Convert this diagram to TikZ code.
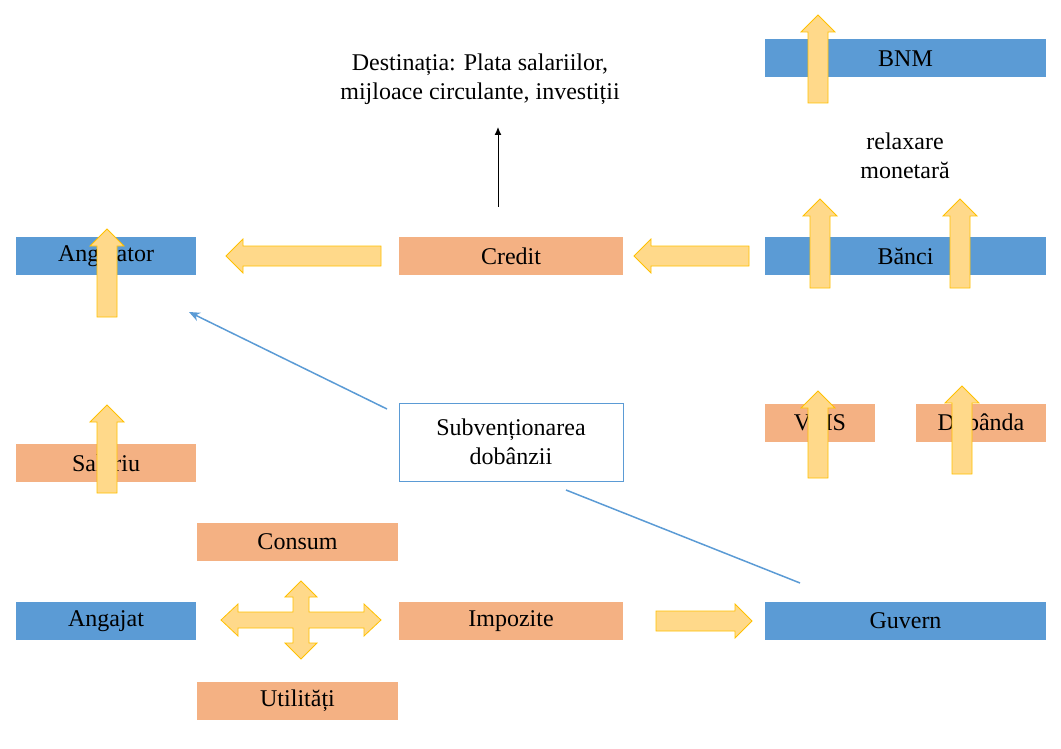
\documentclass[tikz,border=0pt]{standalone}
\usepackage{fontspec}
\setmainfont{Liberation Serif}
\usetikzlibrary{arrows.meta}
\definecolor{bblue}{HTML}{5B9BD5}
\definecolor{bor}{HTML}{F4B183}
\definecolor{yfill}{HTML}{FFD98A}
\definecolor{yline}{HTML}{FFC000}
\newcommand\blockarrow[4]{% x y angle length
\begin{scope}[shift={(#1,#2)},rotate=#3]
\draw[yline,fill=yfill,line width=0.8] (0,-10)--(#4-17,-10)--(#4-17,-17)--(#4,0)--(#4-17,17)--(#4-17,10)--(0,10)--cycle;
\end{scope}}
\begin{document}
\begin{tikzpicture}[x=1pt,y=-1pt,
 box/.style={minimum height=38,inner sep=0,font=\fontsize{24}{29}\selectfont},
 bl/.style={box,fill=bblue},
 og/.style={box,fill=bor},
 txt/.style={font=\fontsize{24}{29}\selectfont,align=center}]
\useasboundingbox (0,0) rectangle (1061,749);
\node[bl,minimum width=281] (bnm) at (905.5,58.5) {BNM};
\node[bl,minimum width=180] (angajator) at (106,256) {Angajator};
\node[og,minimum width=224] (credit) at (511,256) {Credit};
\node[bl,minimum width=281] (banci) at (905.5,256) {Bănci};
\node[og,minimum width=110] (vms) at (820,422.5) {VMS};
\node[og,minimum width=130] (dobanda) at (981,422.5) {Dobânda};
\node[og,minimum width=180] (salariu) at (106,463) {Salariu};
\node[og,minimum width=201] (consum) at (297.5,542) {Consum};
\node[bl,minimum width=180] (angajat) at (106,621) {Angajat};
\node[og,minimum width=224] (impozite) at (511,621) {Impozite};
\node[bl,minimum width=281] (guvern) at (905.5,621) {Guvern};
\node[og,minimum width=201] (util) at (297.5,700.5) {Utilități};
\node[draw=bblue,line width=0.8,minimum width=224,minimum height=78,inner sep=0,txt] (subv) at (511,442) {Subvenționarea\\dobânzii};
\node[txt] (dest) at (480,79) {Destinația: Plata salariilor,\\mijloace circulante, investiții};
\node[txt] (relax) at (905,156) {relaxare\\monetară};
\coordinate (dstart) at (498,207);
\coordinate (dend) at (498,127);
\draw[-{Latex[length=8,width=7]},line width=1] (dstart)--(dend);
\coordinate (s1) at (387,409); \coordinate (s2) at (189,312);
\draw[bblue,line width=1.5,-{Stealth[length=11,width=9]}] (s1)--(s2);
\coordinate (g1) at (800,583); \coordinate (g2) at (566,490);
\draw[bblue,line width=1.5] (g1)--(g2);
\blockarrow{818}{103}{90}{88}
\blockarrow{107}{317}{90}{88}
\blockarrow{107}{493}{90}{88}
\blockarrow{820}{288}{90}{89}
\blockarrow{960}{288}{90}{89}
\blockarrow{818}{478}{90}{87}
\blockarrow{962}{474}{90}{88}
\blockarrow{381}{256}{180}{155}
\blockarrow{749}{256}{180}{115}
\blockarrow{656}{621}{0}{96}
\begin{scope}[shift={(301,620)}]
\draw[yline,fill=yfill,line width=0.8]
 (-8,-8)--(-8,-23)--(-16,-23)--(0,-39)--(16,-23)--(8,-23)--(8,-8)
 --(63,-8)--(63,-16)--(80,0)--(63,16)--(63,8)--(8,8)
 --(8,23)--(16,23)--(0,39)--(-16,23)--(-8,23)--(-8,8)
 --(-63,8)--(-63,16)--(-80,0)--(-63,-16)--(-63,-8)--cycle;
\end{scope}
\end{tikzpicture}
\end{document}
